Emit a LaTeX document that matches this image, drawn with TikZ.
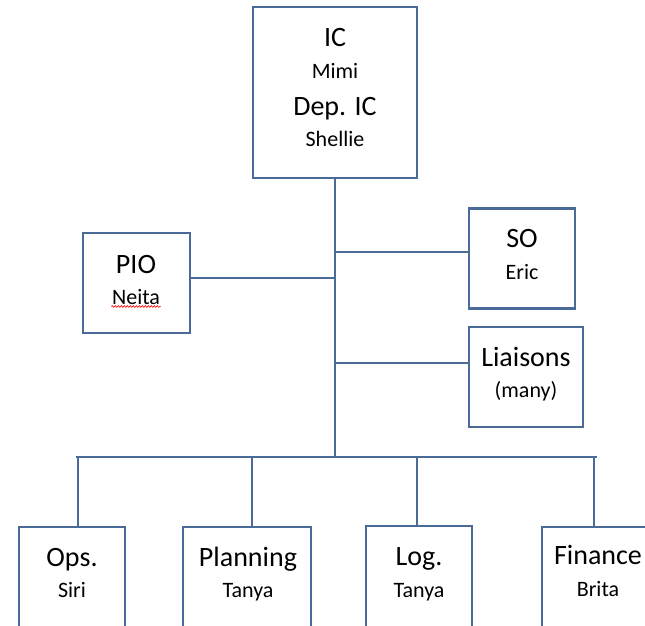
\documentclass[tikz,border=0pt]{standalone}
\usepackage{fontspec}
\setmainfont{Carlito}
\usetikzlibrary{decorations.pathmorphing}
\definecolor{lineblue}{HTML}{4A6B97}
\begin{document}
\begin{tikzpicture}[x=1pt,y=-1pt,
  box/.style={draw=lineblue, line width=2.2pt, fill=none, inner sep=0pt},
  conn/.style={draw=lineblue, line width=2.2pt},
  big/.style={anchor=base, inner sep=0pt, font=\fontsize{28}{32}\selectfont},
  small/.style={anchor=base, inner sep=0pt, font=\fontsize{22}{26}\selectfont}]
\useasboundingbox (0,0) rectangle (645,625);
\clip (0,0) rectangle (645,625);
% boxes
\node[box, minimum width=164pt, minimum height=171pt] (ic) at (335,92.5) {};
\node[box, minimum width=107pt, minimum height=100pt] (pio) at (136.5,283) {};
\node[box, minimum width=106pt, minimum height=100pt] (so) at (522,258.5) {};
\node[box, minimum width=114pt, minimum height=100pt] (lia) at (526,377) {};
\node[box, minimum width=106pt, minimum height=120pt] (ops) at (72,587) {};
\node[box, minimum width=128pt, minimum height=120pt] (plan) at (247,587) {};
\node[box, minimum width=106pt, minimum height=120pt] (log) at (419,586) {};
\node[box, minimum width=112pt, minimum height=120pt] (fin) at (598,587) {};
% texts
\node[big] (tic) at (335,46) {IC};
\node[small] (tmimi) at (335,78) {Mimi};
\node[big] (tdep) at (335,115) {Dep. IC};
\node[small] (tshel) at (335,146) {Shellie};
\node[big] (tpio) at (136,273) {PIO};
\node[small] (tnei) at (136,304) {Neita};
\node[big] (tso) at (522,247) {SO};
\node[small] (teric) at (522,279) {Eric};
\node[big] (tlia) at (526,366) {Liaisons};
\node[small] (tmany) at (526,397) {(many)};
\node[big] (tops) at (72,566) {Ops.};
\node[small] (tsiri) at (72,597) {Siri};
\node[big] (tplan) at (248,566) {Planning};
\node[small] (ttan1) at (248,597) {Tanya};
\node[big] (tlog) at (419,565) {Log.};
\node[small] (ttan2) at (419,597) {Tanya};
\node[big] (tfin) at (598,564) {Finance};
\node[small] (tbri) at (598,596) {Brita};
% spell-check squiggle
\draw[red, line width=0.6pt, decorate, decoration={snake, amplitude=0.9pt, segment length=3pt}]
  ([xshift=-0.5pt,yshift=-2.5pt]tnei.base west) -- ([xshift=0.5pt,yshift=-2.5pt]tnei.base east);
% coordinates on trunk and bus
\coordinate (tSO) at (336,252);
\coordinate (tPIO) at (335,278);
\coordinate (tLIA) at (335,363);
\coordinate (busC) at (335,457);
\coordinate (busL) at (76,457);
\coordinate (busR) at (597,457);
\coordinate (dOps) at (78,457);
\coordinate (dPlan) at (252,457);
\coordinate (dLog) at (417,457);
\coordinate (dFin) at (594,457);
% connectors
\draw[conn] (ic.south -| busC) -- (busC);
\draw[conn] (tSO) -- (tSO -| so.west);
\draw[conn] (pio.east |- tPIO) -- (tPIO);
\draw[conn] (tLIA) -- (tLIA -| lia.west);
\draw[conn] (busL) -- (busR);
\draw[conn] (dOps) -- (dOps |- ops.north);
\draw[conn] (dPlan) -- (dPlan |- plan.north);
\draw[conn] (dLog) -- (dLog |- log.north);
\draw[conn] (dFin) -- (dFin |- fin.north);
\end{tikzpicture}
\end{document}
